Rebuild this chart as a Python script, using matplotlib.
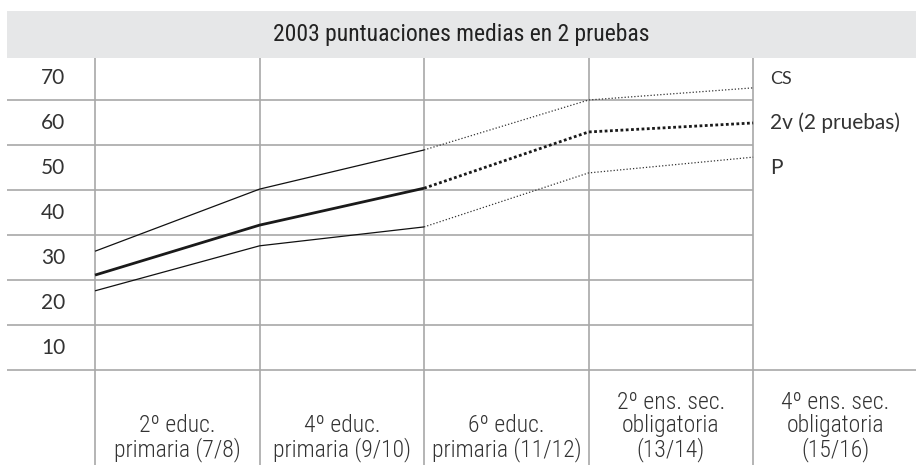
import matplotlib
matplotlib.use("Agg")
import matplotlib.pyplot as plt
import matplotlib.transforms as mtransforms
from matplotlib import font_manager

# ---- data ----
categories = ["2º educ.\nprimaria (7/8)", "4º educ.\nprimaria (9/10)", "6º educ.\nprimaria (11/12)",
              "2º ens. sec.\nobligatoria\n(13/14)", "4º ens. sec.\nobligatoria\n(15/16)"]
cs_values = [31.4, 45.2, 53.9, 65.0, 67.7]
mean_values = [26.1, 37.2, 45.4, 57.9, 59.9]
p_values = [22.6, 32.6, 36.8, 48.8, 52.3]
series_labels = ["CS", "2v (2 pruebas)", "P"]
y_tick_labels = [70, 60, 50, 40, 30, 20, 10]
title = "2003 puntuaciones medias en 2 pruebas"

W, H = 916, 465
fig = plt.figure(figsize=(W / 100, H / 100), dpi=100)

def px_rect(x0, y0, x1, y1):
    return [x0 / W, 1 - y1 / H, (x1 - x0) / W, (y1 - y0) / H]

installed = {f.name for f in font_manager.fontManager.ttflist}
cond = [f for f in ["Roboto Condensed", "Open Sans Condensed", "Liberation Sans Narrow", "Lato"] if f in installed]
narrow = cond[:1] + ["DejaVu Sans"]
lato = ["Lato", "DejaVu Sans"]
txt_col = "#222222"
grid_col = "#a8a8a8"

# title band
tax = fig.add_axes(px_rect(7, 11, 916, 57.7))
tax.set_facecolor("#e6e7e8")
for s in tax.spines.values():
    s.set_visible(False)
tax.set_xticks([]); tax.set_yticks([])
tax.text(0.5, 0.5, title, ha="center", va="center", fontsize=17,
         family=narrow, color=txt_col, transform=tax.transAxes)

# main axes
ax = fig.add_axes(px_rect(7, 57.7, 916, 465))
ax.set_xlim(-0.535, 4.99)
ax.set_ylim(-16.1, 74.4)
ax.axis("off")

n = len(categories)
xs = list(range(n))

# grid
grid_levels = [65, 55, 45, 35, 25, 15]
ax.hlines(grid_levels, -0.535, xs[-1], color=grid_col, lw=1.2, zorder=1)
ax.hlines([5], -0.535, 4.99, color=grid_col, lw=1.2, zorder=1)
ax.vlines(xs, -16.1, 74.4, color=grid_col, lw=1.2, zorder=1)

# y labels
ytr = mtransforms.blended_transform_factory(ax.transAxes, ax.transData)
for v in y_tick_labels:
    ax.text(0.0506, v, str(v), ha="center", va="center", fontsize=15,
            family=lato, color="#333333", transform=ytr)

# x labels
xtr = mtransforms.blended_transform_factory(ax.transData, ax.transAxes)
for i, lab in enumerate(categories):
    ax.text(i + 0.5, 0.008, lab, ha="center", va="bottom", fontsize=17,
            family=narrow, fontweight="light", color="#333333", transform=xtr,
            linespacing=1.0, multialignment="center")

# series
def draw(vals, lw, dot_style, color_solid, color_dot):
    ax.plot(xs[:3], vals[:3], color=color_solid, lw=lw, solid_capstyle="butt", zorder=3)
    ax.plot(xs[2:], vals[2:], color=color_dot, lw=lw, linestyle=dot_style, zorder=3)

draw(cs_values, 0.9, (0, (1, 1.6)), "#111111", "#333333")
draw(p_values, 0.9, (0, (1, 1.6)), "#111111", "#333333")
draw(mean_values, 2.0, (0, (1, 0.9)), "#1a1a1a", "#1a1a1a")

# right labels
offsets = [(12.2, 6.5), (12.2, 0), (12.2, -8)]
sizes = [13, 15, 15]
for vals, lab, off, fs in zip([cs_values, mean_values, p_values], series_labels, offsets, sizes):
    ax.annotate(lab, (xs[-1], vals[-1]), xytext=off, textcoords="offset points",
                ha="left", va="center", fontsize=fs, family=lato,
                color="#333333")

fig.savefig("out.png", dpi=100)
